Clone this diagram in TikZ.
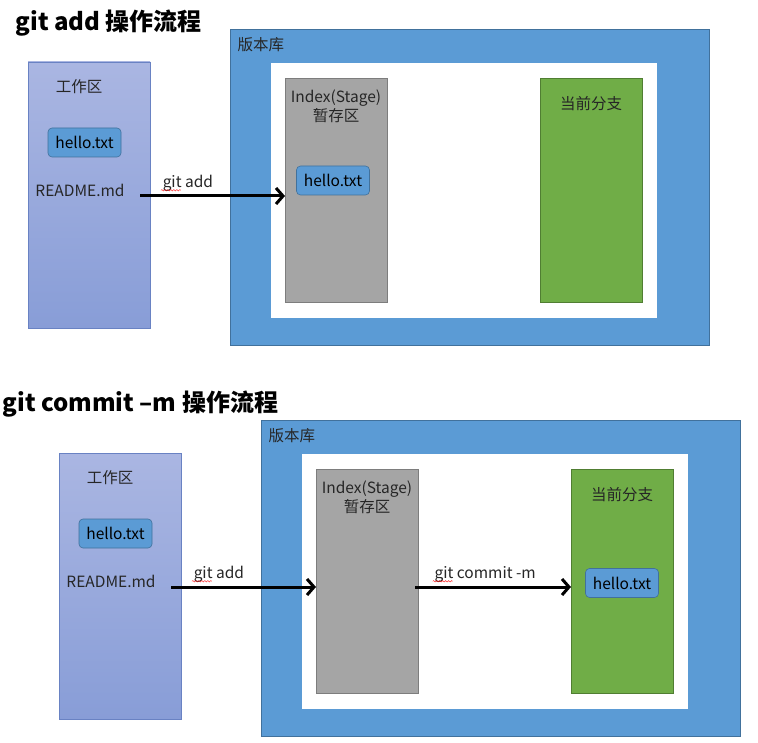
\documentclass[tikz,border=0pt]{standalone}
\usepackage{fontspec}
\setmainfont{Noto Sans CJK SC}
\usetikzlibrary{arrows.meta,decorations.pathmorphing}
\definecolor{repoblue}{RGB}{91,155,213}
\definecolor{repoline}{RGB}{65,113,156}
\definecolor{stagegray}{RGB}{165,165,165}
\definecolor{stageline}{RGB}{125,125,125}
\definecolor{branchgreen}{RGB}{112,173,71}
\definecolor{branchline}{RGB}{80,126,50}
\definecolor{worktop}{RGB}{170,182,226}
\definecolor{workbottom}{RGB}{136,157,215}
\definecolor{workline}{RGB}{105,130,195}
\tikzstyle{arrow} = [line width=3pt,-{Straight Barb[length=7pt,width=16pt,line width=3pt]}]
\tikzstyle{box} = [rectangle,inner sep=0pt,outer sep=0pt]
\tikzstyle{repo} = [box,fill=repoblue,draw=repoline,line width=0.6pt,minimum width=479pt,minimum height=316pt]
\tikzstyle{pane} = [box,fill=white,minimum width=386pt,minimum height=255pt]
\tikzstyle{stage} = [box,fill=stagegray,draw=stageline,line width=0.6pt,minimum width=102pt,minimum height=224pt]
\tikzstyle{branch} = [box,fill=branchgreen,draw=branchline,line width=0.6pt,minimum width=102pt,minimum height=224pt]
\tikzstyle{work} = [box,top color=worktop,bottom color=workbottom,draw=workline,line width=0.6pt,minimum width=122pt,minimum height=266pt]
\tikzstyle{file} = [box,fill=repoblue,draw=repoline,line width=0.6pt,rounded corners=4pt,minimum width=73pt,minimum height=29pt,font=\fontsize{15.5}{17}\selectfont]
\tikzstyle{txt} = [font=\fontsize{15.5}{19}\selectfont,align=center,text=black!85]
\tikzstyle{title} = [anchor=base west,font=\fontsize{24}{28}\selectfont\bfseries]
\tikzstyle{squiggle} = [red,line width=0.4pt,decorate,decoration={snake,segment length=3pt,amplitude=0.7pt}]

\begin{document}
\begin{tikzpicture}[x=1pt,y=-1pt]
        \useasboundingbox (0,0) rectangle (758,743);
        % git add
        \node[title] (title1) at (12,31) {git add 操作流程};
        \node[work] (work1) at (89,195) {};
        \node[txt] (worklabel1) at (79,87) {工作区};
        \node[file] (hello1) at (84.5,142.5) {hello.txt};
        \node[txt] (readme1) at (80,190) {README.md};
        \node[repo] (repo1) at (469.5,187) {};
        \node[txt,anchor=west] (repolabel1) at (234,45) {版本库};
        \node[pane] (pane1) at (464,190.5) {};
        \node[stage] (index1) at (336,190) {};
        \node[txt] (indexlabel1) at (336,106) {Index(Stage)\\暂存区};
        \node[file] (hello2) at (333,180.5) {hello.txt};
        \node[branch] (branch1) at (591,190) {};
        \node[txt] (branchlabel1) at (591,104) {当前分支};
        \draw[arrow] ([xshift=12pt,yshift=-6pt]readme1.east) -- node[txt,pos=0.33,above] (gitadd1) {git add} ([yshift=-6pt]readme1.east -| index1.west);
        \draw[squiggle] ([xshift=3pt,yshift=-3pt]gitadd1.base west) -- ++(20,0);

        % git commit -m
        \node[title] (title2) at (-1,411) {git commit –m 操作流程};
        \node[work] (work2) at (120,586) {};
        \node[txt] (worklabel2) at (110,478) {工作区};
        \node[file] (hello3) at (115.5,533.5) {hello.txt};
        \node[txt] (readme2) at (111,581) {README.md};
        \node[repo] (repo2) at (500.5,578) {};
        \node[txt,anchor=west] (repolabel2) at (265,436) {版本库};
        \node[pane] (pane2) at (495,581.5) {};
        \node[stage] (index2) at (367,581) {};
        \node[txt] (indexlabel2) at (367,497) {Index(Stage)\\暂存区};
        \node[branch] (branch2) at (622,581) {};
        \node[txt] (branchlabel2) at (622,495) {当前分支};
        \node[file] (hello4) at (622,583) {hello.txt};
        \draw[arrow] ([xshift=12pt,yshift=-6pt]readme2.east) -- node[txt,pos=0.33,above] (gitadd2) {git add} ([yshift=-6pt]readme2.east -| index2.west);
        \draw[squiggle] ([xshift=3pt,yshift=-3pt]gitadd2.base west) -- ++(20,0);
        \draw[arrow] ([xshift=-3pt,yshift=-6pt]index2.east) -- node[txt,pos=0.45,above] (commit1) {git commit -m} ([yshift=-6pt]branch2.west);
        \draw[squiggle] ([xshift=3pt,yshift=-3pt]commit1.base west) -- ++(20,0);
\end{tikzpicture}
\end{document}
